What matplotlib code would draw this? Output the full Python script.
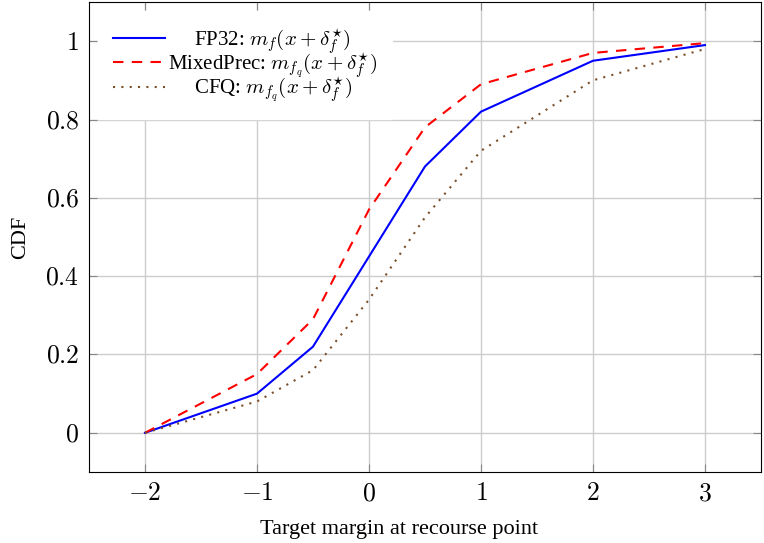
import matplotlib as mpl
mpl.use('Agg')
import matplotlib.pyplot as plt

x = [-2, -1, -0.5, 0, 0.5, 1, 2, 3]
fp32 = [0, 0.10, 0.22, 0.45, 0.68, 0.82, 0.95, 0.99]
mixed = [0, 0.15, 0.29, 0.57, 0.78, 0.89, 0.97, 0.995]
cfq = [0, 0.08, 0.16, 0.34, 0.55, 0.72, 0.90, 0.98]

xticks = [-2, -1, 0, 1, 2, 3]
yticks = [0, 0.2, 0.4, 0.6, 0.8, 1]

plt.rcParams['font.family'] = ['Liberation Serif', 'DejaVu Serif']
plt.rcParams['mathtext.fontset'] = 'cm'

fig = plt.figure(figsize=(7.64, 5.43), dpi=100)
ax = fig.add_axes([0.1165, 0.1308, 0.8795, 0.8655])

# leading spaces mimic the centred legend cells of the original
ax.plot(x, fp32, color='blue', lw=1.5,
        label=r'     FP32: $m_f(x+\delta_f^{\star})$')
ax.plot(x, mixed, color='red', lw=1.5, ls=(0, (5, 4)),
        label=r'MixedPrec: $m_{f_q}(x+\delta_f^{\star})$')
ax.plot(x, cfq, color='#7a4f2a', lw=1.5, ls=(0, (1, 3)),
        label=r'     CFQ: $m_{f_q}(x+\delta_f^{\star})$')

ax.set_xlim(-2.5, 3.5)
ax.set_ylim(-0.1, 1.1)
ax.set_xticks(xticks)
ax.set_xticklabels([r'$%g$' % t if t >= 0 else r'$-%g$' % -t for t in xticks])
ax.set_yticks(yticks)
ax.set_yticklabels([r'$%g$' % t for t in yticks])
ax.tick_params(direction='in', top=True, right=True, labelsize=18.5, length=6,
               color='#888888')
ax.tick_params(axis='x', pad=8)
ax.tick_params(axis='y', pad=7)
ax.grid(True, color='#cccccc', lw=1)
ax.set_axisbelow(True)

ax.set_xlabel('Target margin at recourse point', fontsize=16)
ax.xaxis.set_label_coords(0.461, -0.103)
ax.set_ylabel('CDF', fontsize=16, labelpad=11)

leg = ax.legend(loc='upper left', fontsize=15, frameon=True, handlelength=2.5,
                handletextpad=0.15, labelspacing=-0.25, borderaxespad=0.75)
leg.get_frame().set_edgecolor('white')
leg.get_frame().set_alpha(1)
leg.get_frame().set_boxstyle('square')

fig.savefig('out.png')
